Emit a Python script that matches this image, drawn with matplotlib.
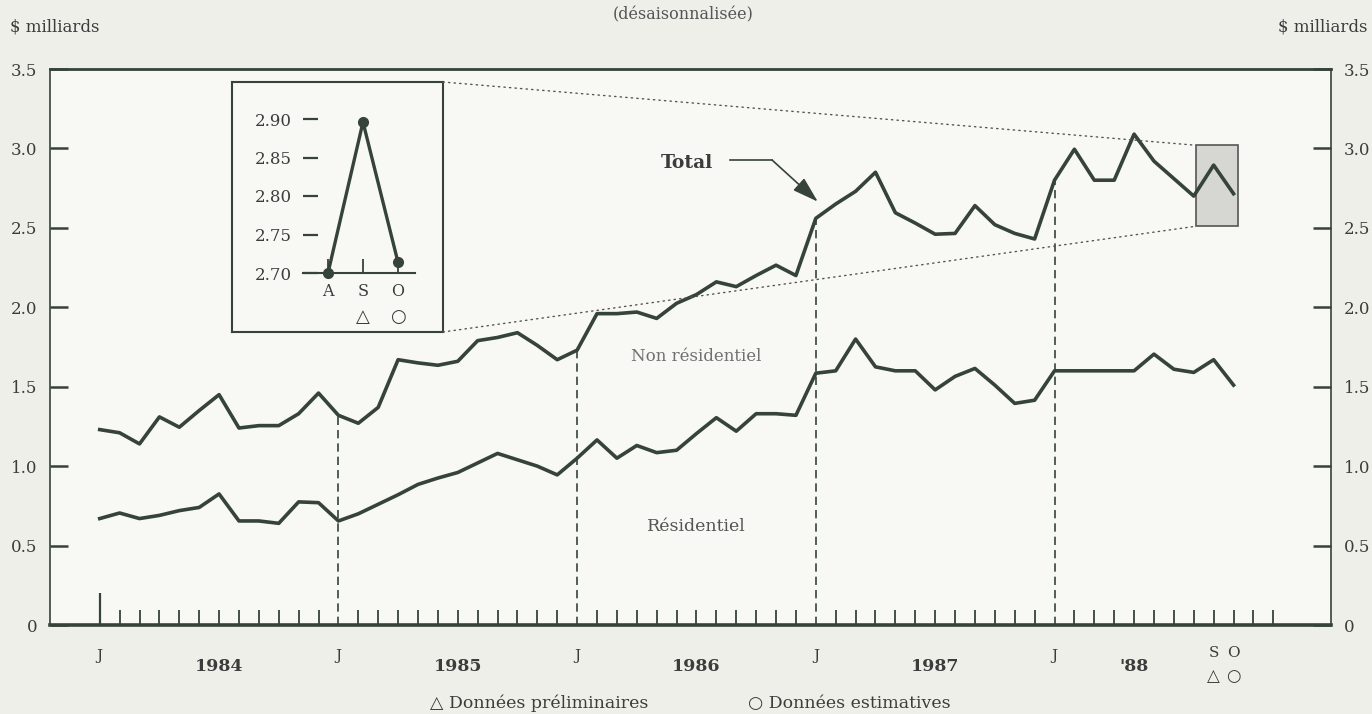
import matplotlib
matplotlib.use('Agg')
import matplotlib.pyplot as plt
from matplotlib.patches import Rectangle, ConnectionPatch
import numpy as np

# monthly, Jan 1984 .. Oct 1988, $ billions, seasonally adjusted
total = [1.23, 1.21, 1.14, 1.31, 1.245, 1.35, 1.45, 1.24, 1.255, 1.255, 1.33, 1.46,
         1.32, 1.27, 1.37, 1.67, 1.65, 1.635, 1.66, 1.79, 1.81, 1.84, 1.76, 1.67,
         1.73, 1.96, 1.96, 1.97, 1.93, 2.025, 2.08, 2.16, 2.13, 2.20, 2.265, 2.20,
         2.56, 2.65, 2.73, 2.85, 2.595, 2.53, 2.46, 2.465, 2.64, 2.52, 2.465, 2.43,
         2.80, 2.995, 2.80, 2.80, 3.09, 2.92, 2.81, 2.70, 2.895, 2.715]
residential = [0.67, 0.705, 0.67, 0.69, 0.72, 0.74, 0.825, 0.655, 0.655, 0.64, 0.775, 0.77,
               0.655, 0.70, 0.76, 0.82, 0.885, 0.925, 0.96, 1.02, 1.08, 1.04, 1.00, 0.945,
               1.05, 1.165, 1.05, 1.13, 1.085, 1.10, 1.205, 1.305, 1.22, 1.33, 1.33, 1.32,
               1.585, 1.60, 1.80, 1.625, 1.60, 1.60, 1.48, 1.565, 1.615, 1.51, 1.395, 1.415,
               1.60, 1.60, 1.60, 1.60, 1.60, 1.705, 1.61, 1.59, 1.67, 1.51]
years = ['1984', '1985', '1986', '1987', "'88"]
year_pos = [6, 18, 30, 42, 52]
inset_months = ['A', 'S', 'O']
inset_values = [2.70, 2.896, 2.714]
yticks = [0, 0.5, 1.0, 1.5, 2.0, 2.5, 3.0, 3.5]
ytick_labels = ['0', '0.5', '1.0', '1.5', '2.0', '2.5', '3.0', '3.5']

months = np.arange(len(total))
januaries = months[::12]

INK = '#36433a'
TXT = '#3c3c3c'
SERIF = ['DejaVu Serif', 'DejaVu Sans']
plt.rcParams['font.family'] = SERIF

W, H = 1372, 714


def fx(px):
    return px / W


def fy(py):
    return 1 - py / H


fig = plt.figure(figsize=(W / 100, H / 100), dpi=100, facecolor='#efefea')
ax = fig.add_axes([fx(50), fy(625), (1331 - 50) / W, (625 - 69) / H], facecolor='#f8f8f4')

ax.plot(months, total, color=INK, lw=2.6, zorder=4)
ax.plot(months, residential, color=INK, lw=2.6, zorder=4)

# dashed year separators rising to the total line
ax.vlines(januaries[1:], 0, [total[i] for i in januaries[1:]], colors=INK,
          linestyles=(0, (5, 3)), lw=1.2, zorder=3)
ax.vlines(januaries[0], 0, 0.2, colors=INK, lw=1.6, zorder=3)

ax.set_xlim(-2.5, 61.9)
ax.set_ylim(0, 3.5)

# zoomed box over the last three months
box = Rectangle((months[-3] + 0.1, 2.51), 2.1, 0.51, facecolor='#d6d6d2',
                edgecolor='#555', lw=1.2, zorder=2)
ax.add_patch(box)

for side in ['left', 'right']:
    ax.spines[side].set_linewidth(1.2)
    ax.spines[side].set_color(INK)
ax.spines['top'].set_linewidth(2.0)
ax.spines['top'].set_color(INK)
ax.spines['bottom'].set_linewidth(2.6)
ax.spines['bottom'].set_color(INK)

ax.set_yticks(yticks)
ax.set_yticklabels(ytick_labels)
ax.tick_params(axis='y', which='major', direction='in', length=13, width=1.8, color=INK,
               left=True, right=True, labelleft=True, labelright=True, pad=9,
               labelsize=12, labelcolor=TXT)

ax.set_xticks(januaries)
ax.set_xticklabels(['J'] * len(januaries))
ax.set_xticks(np.arange(60), minor=True)
ax.tick_params(axis='x', which='major', length=0, pad=17, labelsize=11, labelcolor=TXT)
ax.tick_params(axis='x', which='minor', direction='in', length=11, width=1.3, color=INK)

for label, x in zip(years, year_pos):
    ax.text(x, -0.264, label, ha='center', va='center', fontsize=12.5,
            fontweight='bold', color=TXT, clip_on=False)

ax.text(months[-2], -0.176, 'S', ha='center', va='center', fontsize=11, color=TXT, clip_on=False)
ax.text(months[-1], -0.176, 'O', ha='center', va='center', fontsize=11, color=TXT, clip_on=False)
ax.text(months[-2], -0.327, '△', ha='center', va='center', fontsize=12, color=TXT, clip_on=False)
ax.text(months[-1], -0.327, '○', ha='center', va='center', fontsize=12, color=TXT, clip_on=False)

ax.text(29.5, 2.907, 'Total', ha='center', va='center', fontsize=13.5, fontweight='bold', color=TXT)
ax.plot([31.7, 33.8], [2.927, 2.927], color=INK, lw=1.2)
ax.annotate('', xy=(36.1, 2.665), xytext=(33.8, 2.927),
            arrowprops=dict(arrowstyle='-|>,head_length=0.8,head_width=0.25', color=INK,
                            lw=1.2, mutation_scale=20, shrinkA=0, shrinkB=0))
ax.text(30, 1.69, 'Non résidentiel', ha='center', va='center', fontsize=12, color='#707070')
ax.text(30, 0.62, 'Résidentiel', ha='center', va='center', fontsize=12.5, color='#555555')

# inset frame and the zoomed Aug-Oct plot
frame = fig.add_axes([fx(232), fy(332), (443 - 232) / W, (332 - 82) / H], facecolor='#f8f8f4')
frame.set_xticks([])
frame.set_yticks([])
for s in frame.spines.values():
    s.set_color(INK)
    s.set_linewidth(1.5)

ins = fig.add_axes([fx(303), fy(273), (415 - 303) / W, (273 - 119) / H])
ins.patch.set_alpha(0)
pos = np.arange(len(inset_values))
ins.plot(pos, inset_values, color=INK, lw=2.4, marker='o', markersize=7, clip_on=False, zorder=4)
ins.set_xlim(-0.714, 2.486)
ins.set_ylim(2.70, 2.90)
for side in ['left', 'right', 'top']:
    ins.spines[side].set_visible(False)
ins.spines['bottom'].set_color(INK)
ins.spines['bottom'].set_linewidth(1.5)
ins.set_yticks([2.70, 2.75, 2.80, 2.85, 2.90])
ins.set_yticklabels(['2.70', '2.75', '2.80', '2.85', '2.90'])
ins.tick_params(axis='y', direction='in', length=11, width=1.6, color=INK, pad=8,
                labelsize=12, labelcolor=TXT)
ins.set_xticks(pos)
ins.set_xticklabels(inset_months)
ins.tick_params(axis='x', direction='in', length=10, width=1.3, color=INK, pad=7,
                labelsize=11.5, labelcolor=TXT)
ins.text(pos[1], -0.286, '△', transform=ins.get_xaxis_transform(), ha='center', va='center',
         fontsize=13, color=TXT)
ins.text(pos[2], -0.286, '○', transform=ins.get_xaxis_transform(), ha='center', va='center',
         fontsize=13, color=TXT)

for corner, yv in [((1, 1), 3.02), ((1, 0), 2.51)]:
    con = ConnectionPatch(xyA=corner, coordsA=frame.transAxes,
                          xyB=(months[-3] + 0.1, yv), coordsB=ax.transData,
                          linestyle=(0, (1, 3)), color='#555', lw=1.0)
    fig.add_artist(con)

fig.text(fx(10), fy(27), '$ milliards', ha='left', va='center', fontsize=12, color=TXT)
fig.text(fx(1368), fy(27), '$ milliards', ha='right', va='center', fontsize=12, color=TXT)
fig.text(fx(683), fy(15), '(désaisonnalisée)', ha='center', va='center', fontsize=11.5, color='#555')
fig.text(fx(430), fy(703), '△ Données préliminaires', ha='left', va='center', fontsize=12.5, color=TXT)
fig.text(fx(748), fy(703), '○ Données estimatives', ha='left', va='center', fontsize=12.5, color=TXT)

fig.savefig('out.png', dpi=100, facecolor=fig.get_facecolor())
